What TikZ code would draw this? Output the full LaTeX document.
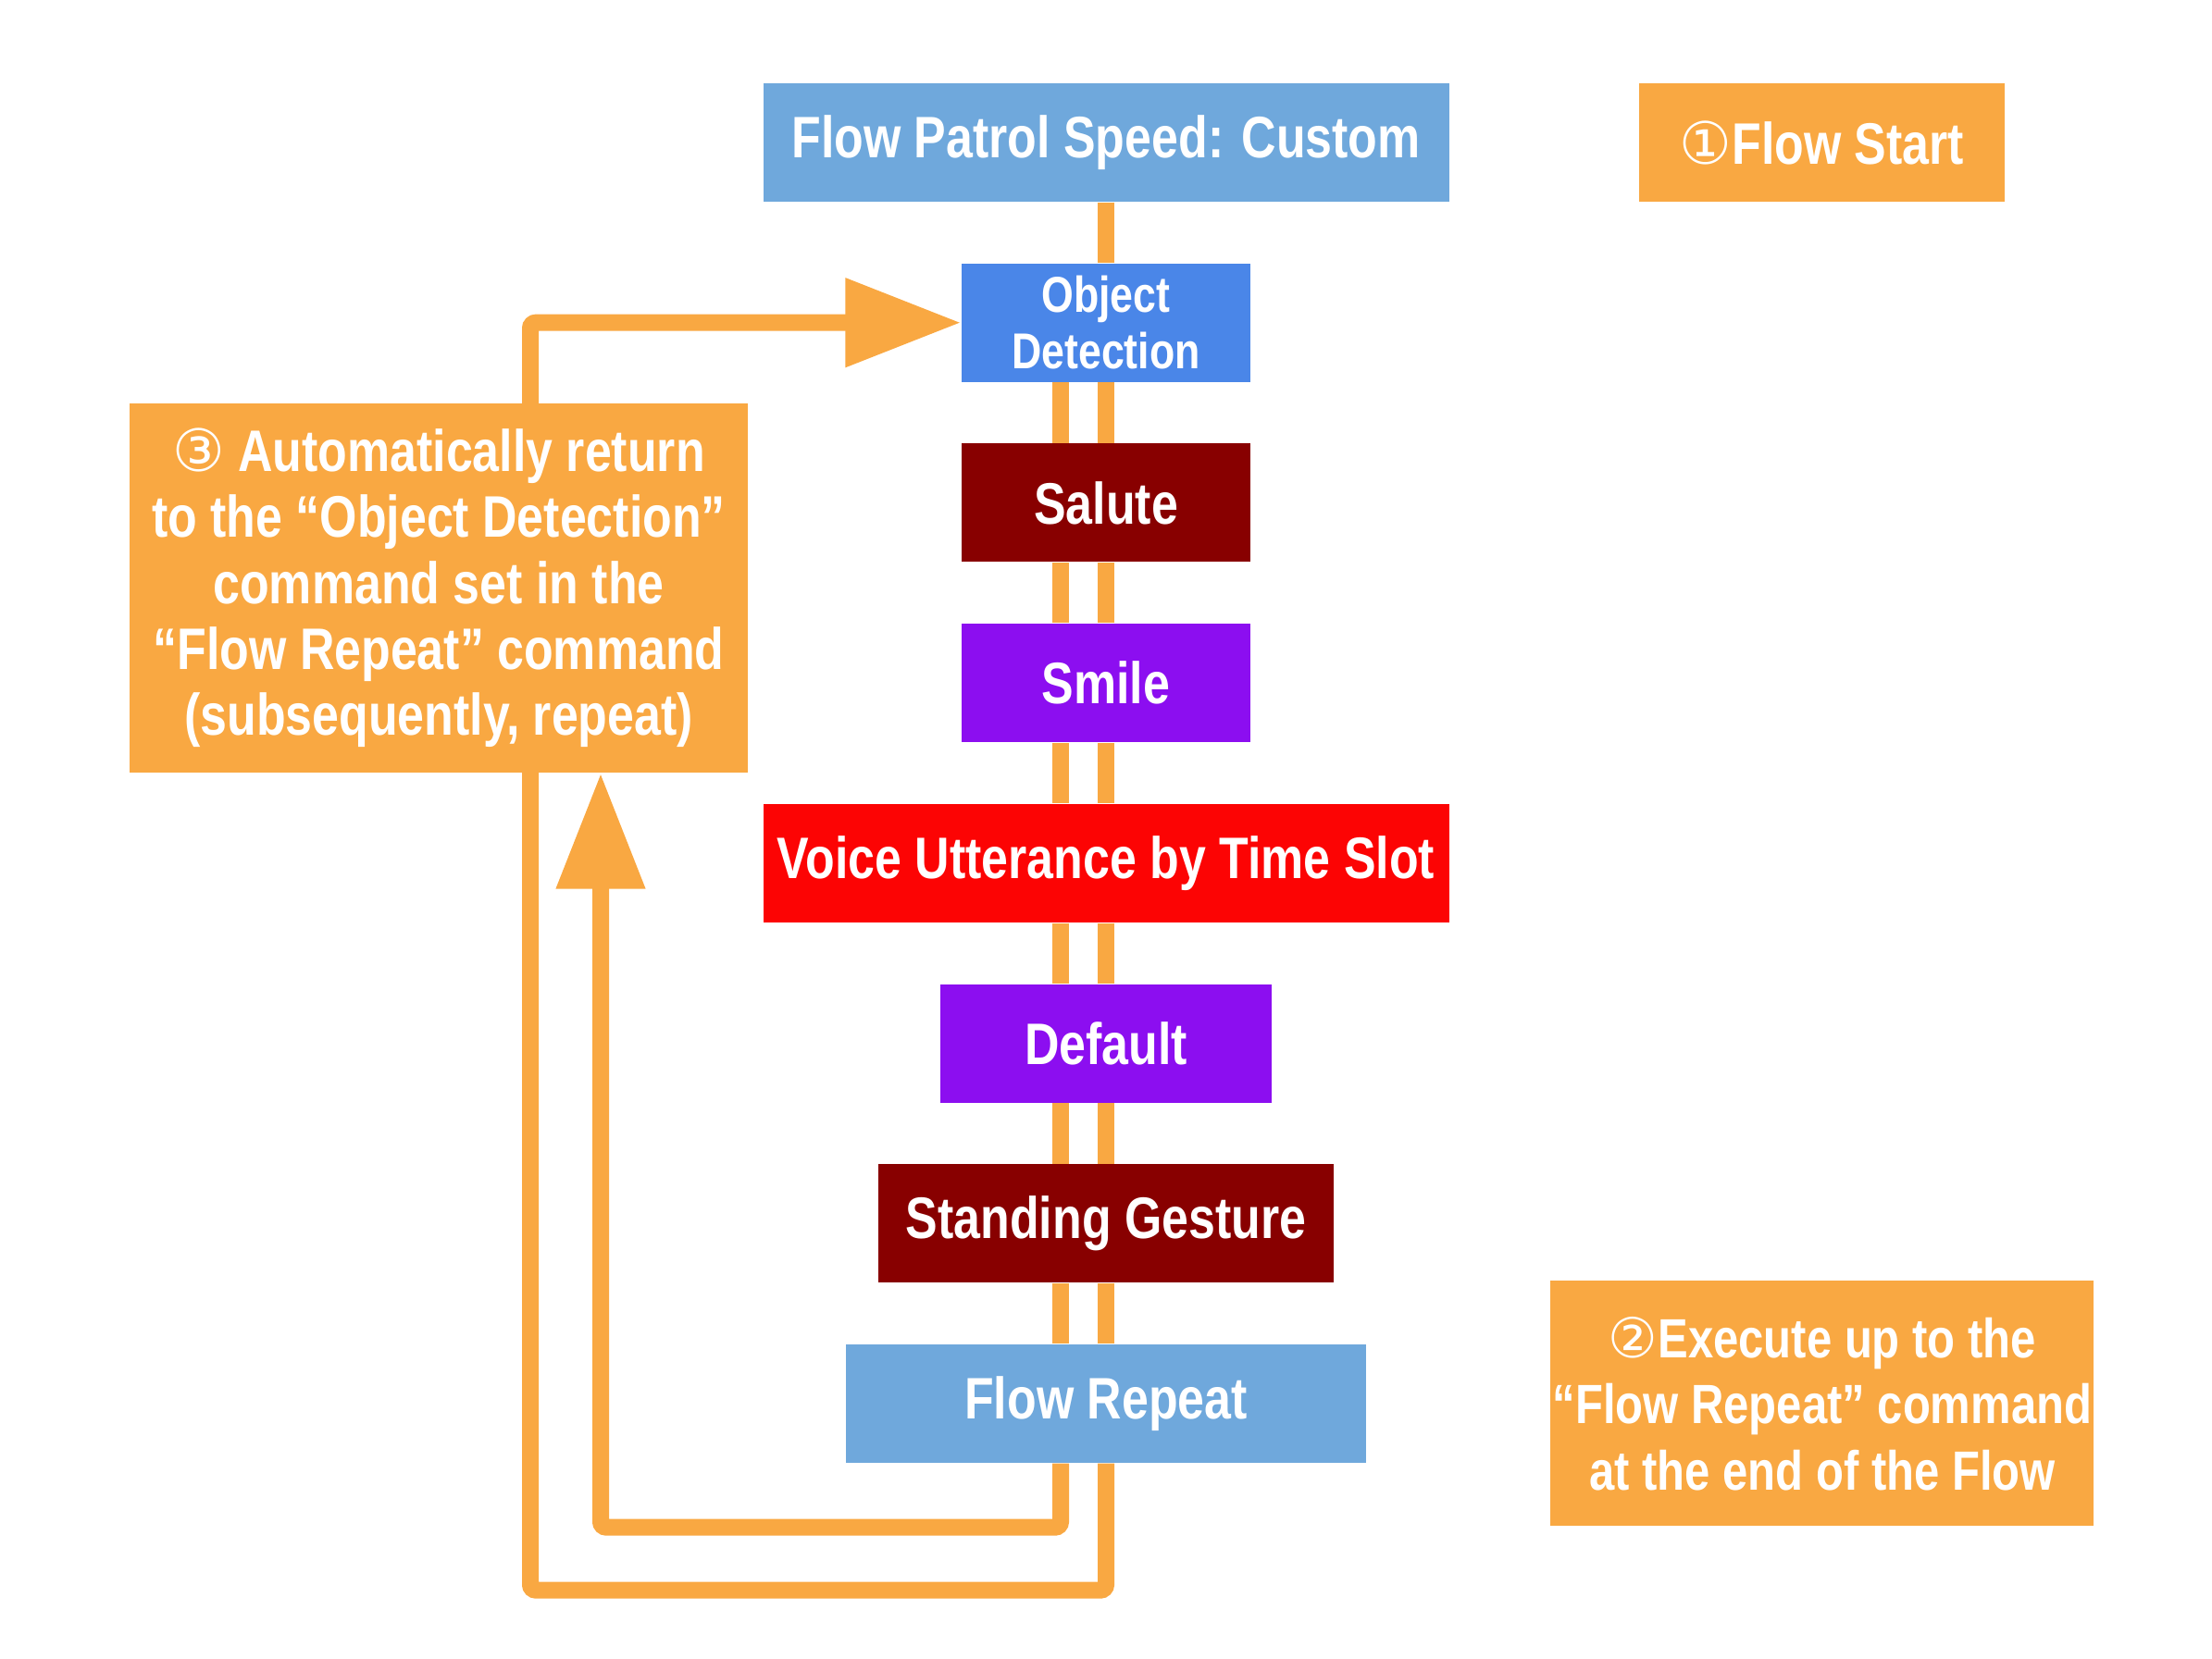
\documentclass[tikz,border=0pt]{standalone}
\usepackage{fontspec}
\usetikzlibrary{arrows.meta, positioning, backgrounds}
\newfontfamily\boxfont[FakeStretch=0.82]{Liberation Sans}
\newfontfamily\circfont{DejaVu Sans}
\newcommand{\circnum}[1]{{\circfont\mdseries #1}}
\definecolor{patrolblue}{RGB}{111,168,220}
\definecolor{detectblue}{RGB}{74,134,232}
\definecolor{gesturered}{RGB}{136,0,0}
\definecolor{smilepurple}{RGB}{140,14,240}
\definecolor{voicered}{RGB}{252,4,4}
\definecolor{noteorange}{RGB}{249,168,66}

\begin{document}
\begin{tikzpicture}[
        node distance=0.653cm,
        block/.style={rectangle, text=white, inner sep=0pt, minimum height=1.28cm, align=center, font=\boxfont\bfseries\fontsize{18}{20.3}\selectfont},
        note/.style={block, fill=noteorange},
        link/.style={draw=noteorange, line width=0.18cm},
        backarrow/.style={link, rounded corners=0.06cm, -{Triangle[length=1.25cm, width=0.92cm]}}
    ]
        \useasboundingbox (0,0) rectangle (23.9,-17.92);

        \node[block, fill=patrolblue, minimum width=7.41cm] (fps) at (11.95,-1.54) {Flow Patrol Speed: Custom};
        \node[block, fill=detectblue, minimum width=3.12cm, font=\boxfont\bfseries\fontsize{15.5}{17.3}\selectfont, below=of fps] (od) {Object\\Detection};
        \node[block, fill=gesturered, minimum width=3.12cm, below=of od] (sal) {Salute};
        \node[block, fill=smilepurple, minimum width=3.12cm, below=of sal] (sm) {Smile};
        \node[block, fill=voicered, minimum width=7.41cm, below=of sm] (vo) {Voice Utterance by Time Slot};
        \node[block, fill=smilepurple, minimum width=3.58cm, below=of vo] (df) {Default};
        \node[block, fill=gesturered, minimum width=4.92cm, below=of df] (sg) {Standing Gesture};
        \node[block, fill=patrolblue, minimum width=5.62cm, below=of sg] (rep) {Flow Repeat};

        \node[note, minimum width=3.95cm, right=2.04cm of fps] (start) {\circnum{①}Flow Start};
        \node[note, minimum width=5.87cm, minimum height=2.65cm, font=\boxfont\bfseries\fontsize{17}{20.3}\selectfont, right=1.98cm of rep] (n2) {\circnum{②}Execute up to the\\“Flow Repeat” command\\at the end of the Flow};
        \node[note, minimum width=6.68cm, minimum height=3.99cm] (n3) at (4.74,-6.355) {\circnum{③} Automatically return\\to the “Object Detection”\\command set in the\\“Flow Repeat” command\\(subsequently, repeat)};

        \begin{scope}[on background layer]
        \draw[link] (fps) -- (od);
        \draw[link] (od) -- (sal);
        \draw[link] (sal) -- (sm);
        \draw[link] (sm) -- (vo);
        \draw[link] (vo) -- (df);
        \draw[link] (df) -- (sg);
        \draw[link] (sg) -- (rep);
        \draw[link] ([xshift=-0.49cm]od.south) -- ([xshift=-0.49cm]sal.north);
        \draw[link] ([xshift=-0.49cm]sal.south) -- ([xshift=-0.49cm]sm.north);
        \draw[link] ([xshift=-0.49cm]sm.south) -- ([xshift=-0.49cm]vo.north);
        \draw[link] ([xshift=-0.49cm]vo.south) -- ([xshift=-0.49cm]df.north);
        \draw[link] ([xshift=-0.49cm]df.south) -- ([xshift=-0.49cm]sg.north);
        \draw[link] ([xshift=-0.49cm]sg.south) -- ([xshift=-0.49cm]rep.north);

        \draw[backarrow] ([xshift=-0.49cm]rep.south) -- ++(0,-0.69) -| ([xshift=1.75cm]n3.south);
        \draw[backarrow] (rep.south) -- ++(0,-1.37) -| ([xshift=0.99cm]n3.north) |- (od.west);
        \end{scope}
    \end{tikzpicture}
\end{document}
